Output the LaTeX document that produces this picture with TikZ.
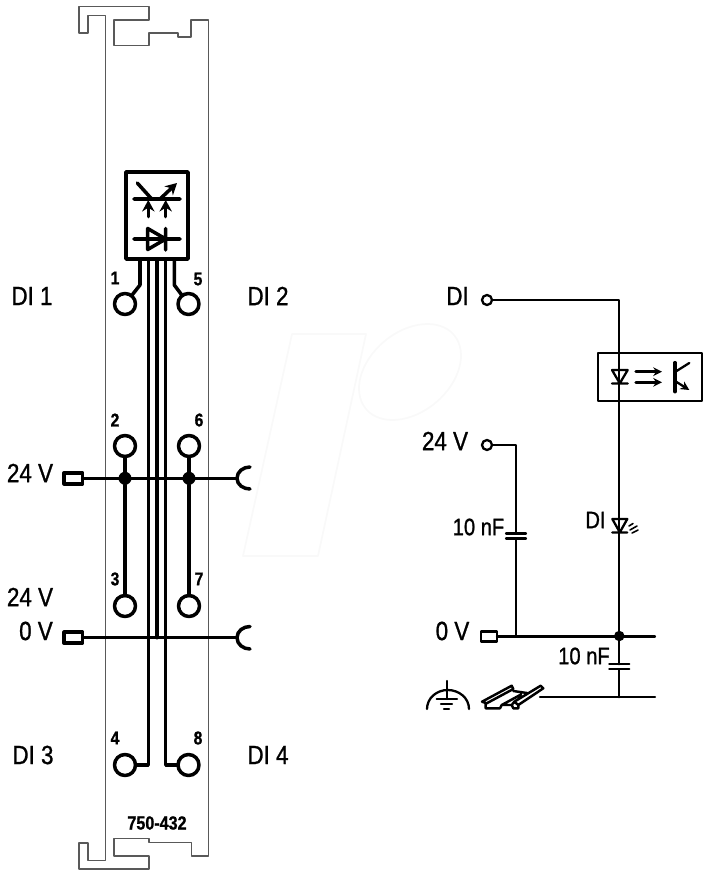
\documentclass[tikz,border=0pt]{standalone}
\usepackage{fontspec}
\usetikzlibrary{arrows.meta}
\setmainfont[FakeStretch=0.85, FakeBold=1]{Liberation Sans}
\tikzset{
	rail/.style={draw=black!65, line width=0.8pt},
	wire/.style={line width=2pt},
	thin wire/.style={line width=1.3pt},
	pin/.style={circle, draw, line width=2pt, minimum size=0.42cm, inner sep=0pt, outer sep=0pt},
	port/.style={rectangle, draw, line width=2pt, minimum width=0.37cm, minimum height=0.22cm, inner sep=0pt, outer sep=0pt},
	junction/.style={circle, fill, minimum size=0.26cm, inner sep=0pt, outer sep=0pt},
	open pin/.style={circle, draw, line width=1.3pt, minimum size=0.2cm, inner sep=0pt, outer sep=0pt},
	big label/.style={font=\fontsize{15}{17}\selectfont, inner sep=0pt},
	small label/.style={font=\fontsize{10.5}{12}\selectfont\bfseries, inner sep=0pt},
	value label/.style={font=\fontsize{13.5}{15}\selectfont, inner sep=0pt},
	big tip/.style={-{Stealth[length=6.5pt, width=7pt]}},
}
\begin{document}
\begin{tikzpicture}[x=0.02cm, y=-0.02cm, line join=round, line cap=round, >={Stealth[length=5pt, width=5pt]}]
	\useasboundingbox (0,0) rectangle (709,875);
	% watermark
	\draw[black!2.5, line width=1pt] (292,334)--(366,334)--(318,556)--(243,556)--cycle;
	\draw[black!2.5, line width=1pt] (410,372) circle[x radius=1.15cm, y radius=0.8cm, rotate=40];
	% housing
	\draw[rail]
	(105.7,15.5)--(88,15.5)--(88,33)--(79,33)--(79,6.5)--(149,6.5)--(149,20)--(114,20)--(114,45.5)--(149,45.5)--(149,33)--(178,33)--(178,37)--(191,37)--(191,20)--(208.7,20)
	--(208.7,856)--(191.5,856)--(191.5,842.7)--(149,842.7)--(149,838.7)--(114,838.7)--(114,856)--(149,856)--(149,869)--(79,869)--(79,843)--(88,843)--(88,860.5)--(105.7,860.5)--cycle;
	% status block
	\node[draw, line width=2pt, minimum width=1.24cm, minimum height=1.74cm, inner sep=0pt, outer sep=0pt] (sensor) at (157,215.5) {};
	\draw[wire] (134,199)--(180,199) (137.3,183)--(151.7,199);
	\draw[wire, big tip] (160,199)--(177,183);
	\draw[wire, big tip] (148.3,216.7)--(148.3,200);
	\draw[wire, big tip] (165.7,216.7)--(165.7,200);
	\draw[wire] (134,239)--(180,239) (147.7,228.5)--(165.7,239)--(147.7,249.5)--cycle (165.7,228.5)--(165.7,250);
	% pins
	\foreach \n/\x/\y/\lx/\ly in {1/125/304/115/278,2/125/446/115/420,3/125/606/115/579,4/125/765/115/738,5/188.5/304/198/279,6/189/446/199/420,7/189/606/199/579,8/188.5/765/198/738}{
		\node[pin] (pin\n) at (\x,\y) {};
		\node[small label] (num\n) at (\lx,\ly) {\n};
	}
	% busses
	\node[port] (port24) at (73.3,478.3) {};
	\node[port] (port0) at (73.3,637.7) {};
	\path
	(237,478.3)coordinate (cup24)
	(237,637.7)coordinate (cup0)
	(140,259)coordinate (dropA)
	(140,285)coordinate (bendA)
	(174.3,259)coordinate (dropE)
	(174.3,285)coordinate (bendE)
	(148.3,259)coordinate (dropB)
	(148.3,765)coordinate (bendB)
	(157,259)coordinate (dropC)
	(157,637.7)coordinate (endC)
	(165.7,259)coordinate (dropD)
	(165.7,765)coordinate (bendD)
	;
	\node[junction] (dot24a) at (125,478.3) {};
	\node[junction] (dot24b) at (189,478.3) {};
	\draw[wire] (port24)--(cup24) (port0)--(cup0);
	\draw[wire] (250,467) to[out=180,in=90] (cup24) to[out=-90,in=180] (250,489);
	\draw[wire] (250,626.5) to[out=180,in=90] (cup0) to[out=-90,in=180] (250,649);
	\draw[wire] (pin2)--(dot24a)--(pin3) (pin6)--(dot24b)--(pin7);
	\draw[wire] (dropA)--(bendA)--(pin1) (dropE)--(bendE)--(pin5);
	\draw[wire] (dropB)--(bendB)--(pin4) (dropD)--(bendD)--(pin8) (dropC)--(endC);
	% left labels
	\foreach \t/\x/\y/\m in {DI 1/32/296/a,DI 2/268/296/b,24 V/30/473/c,24 V/30/597/d,0 V/36/631/e,DI 3/33/755/f,DI 4/268/755/g}
		\node[big label] (label\m) at (\x,\y) {\t};
	\node[font=\fontsize{10.8}{12}\selectfont\bfseries, inner sep=0pt] (type) at (157,823) {750-432};
	% circuit
	\node[open pin] (inDI) at (487,300) {};
	\node[open pin] (in24) at (487,445) {};
	\node[port, line width=1.3pt, minimum width=0.32cm, minimum height=0.2cm] (port0V) at (489,636.5) {};
	\node[big label] (labelDI) at (457.5,296) {DI};
	\node[big label] (label24) at (445,441) {24 V};
	\node[big label] (label0) at (452.5,631) {0 V};
	\node[value label] (labelCa) at (478.5,527) {10 nF};
	\node[value label] (labelCb) at (584,656) {10 nF};
	\node[value label] (labelLed) at (595.5,520) {DI};
	\node[draw, thin wire, minimum width=2.08cm, minimum height=0.96cm, inner sep=0pt, outer sep=0pt] (opto) at (650.3,376.7) {};
	\node[junction, minimum size=0.21cm] (dot0) at (619.3,636) {};
	\path
	(619.3,300)coordinate (top)
	(619.3,697.3)coordinate (bottom)
	(516,445)coordinate (cornerC)
	(516,533.5)coordinate (capAtop)
	(516,538.5)coordinate (capAbot)
	(516,636.5)coordinate (capAend)
	(619.3,664.3)coordinate (capBtop)
	(619.3,669.3)coordinate (capBbot)
	(655,636.5)coordinate (endZero)
	(655,697.3)coordinate (endRail)
	(540,697.3)coordinate (startRail)
	;
	\draw[thin wire] (inDI)--(top)--(dot0)--(capBtop) (capBbot)--(bottom);
	\draw[thin wire] (in24)--(cornerC)--(capAtop) (capAbot)--(capAend);
	\draw[thin wire] (port0V)--(endZero) (startRail)--(endRail);
	\draw[thin wire] (506,533.5)--(526,533.5) (506,538.5)--(526,538.5);
	\draw[thin wire] (609.3,664.3)--(629.3,664.3) (609.3,669.3)--(629.3,669.3);
	% optocoupler
	\draw[thin wire] (612,370)--(627.7,370)--(619.8,383.3)--cycle (612,383.5)--(627.7,383.5);
	\draw[wire, ->] (636,371.7)--(662,371.7);
	\draw[wire, ->] (636,382.3)--(662,382.3);
	\draw[line width=2pt] (675,362.7)--(675,391.7);
	\draw[thin wire] (675,372)--(689.3,363);
	\draw[thin wire, ->] (675,381)--(689.3,390);
	% led
	\draw[thin wire] (612.3,519)--(627.3,519)--(619.8,532.3)--cycle (612.3,532.5)--(627.3,532.5);
	\draw[line width=0.9pt] (629,526)--(633,523.5) (630,530)--(637,526) (632,533)--(638,530);
	% earth
	\draw[thin wire] (446.7,681)--(446.7,699) (436.7,699)--(457,699) (441,704)--(452,704) (444,709)--(449,709);
	\draw[thin wire] (427,709) to[out=90,in=180] (447.7,690) to[out=0,in=90] (469,709);
	% din rail
	\draw[line width=1.4pt]
	(482,701.7)--(511.7,685.7)--(513.3,689)--(486.7,703.3)--cycle
	(514.3,701.7)--(540.7,685.7)--(543.3,688.3)--(518.3,705)--cycle
	(485.7,703.3)--(485.7,708.3)--(500,708.3)--(501.7,705)--(511.7,705)--(513.3,708.3)--(518.3,708.3)--(518.3,705)
	(511.7,705)--(514.3,701.7) (501.7,705)--(521,694.5) (513.3,691)--(527,693);
\end{tikzpicture}
\end{document}
